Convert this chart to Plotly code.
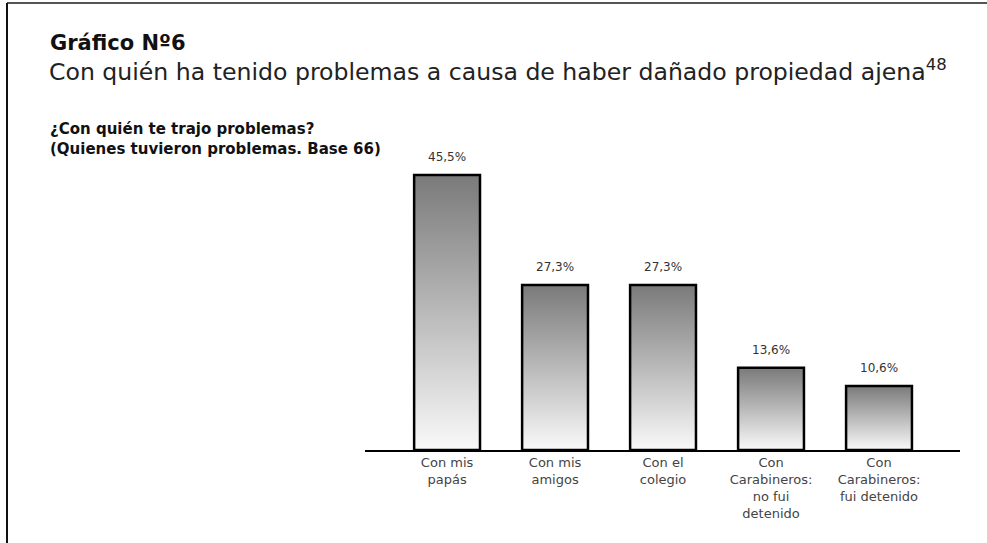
import plotly.graph_objects as go

categories = [
    "Con mis<br>papás",
    "Con mis<br>amigos",
    "Con el<br>colegio",
    "Con<br>Carabineros:<br>no fui<br>detenido",
    "Con<br>Carabineros:<br>fui detenido",
]
values = [45.5, 27.3, 27.3, 13.6, 10.6]
value_labels = ["45,5%", "27,3%", "27,3%", "13,6%", "10,6%"]

W, H = 987, 543
ML, MR, MT, MB = 365, 27, 160, 93
FONT = "DejaVu Sans"


def px_x(px):
    return (px - ML) / (W - ML - MR)


def px_y(py):
    return 1 - (py - MT) / (H - MT - MB)


bar_half = 0.305
fig = go.Figure()

# bars as filled rectangles so each one can carry its own vertical gradient
for i, v in enumerate(values):
    fig.add_trace(
        go.Scatter(
            x=[i - bar_half, i + bar_half, i + bar_half, i - bar_half, i - bar_half],
            y=[0, 0, v, v, 0],
            mode="lines",
            fill="toself",
            fillgradient=dict(
                type="vertical",
                colorscale=[[0, "#f9f9f9"], [1, "#7a7a7a"]],
                start=0,
                stop=v,
            ),
            line=dict(color="#000000", width=2.5),
            hoverinfo="skip",
            showlegend=False,
        )
    )

for i, (v, t) in enumerate(zip(values, value_labels)):
    fig.add_annotation(
        x=i, y=v, text=t, showarrow=False, yanchor="bottom", yshift=9,
        font=dict(family=FONT, size=12, color="#333333"),
    )

fig.add_annotation(
    xref="paper", yref="paper", x=px_x(48), y=px_y(29), xanchor="left", yanchor="top",
    text="<b>Gráfico Nº6</b>", showarrow=False,
    font=dict(family=FONT, size=21, color="#111111"),
)
fig.add_annotation(
    xref="paper", yref="paper", x=px_x(47), y=px_y(53), xanchor="left", yanchor="top",
    text="Con quién ha tenido problemas a causa de haber dañado propiedad ajena<sup>48</sup>",
    showarrow=False,
    font=dict(family=FONT, size=23.6, color="#222222"),
)
fig.add_annotation(
    xref="paper", yref="paper", x=px_x(48), y=px_y(118), xanchor="left", yanchor="top",
    align="left",
    text="<b>¿Con quién te trajo problemas?<br>(Quienes tuvieron problemas. Base 66)</b>",
    showarrow=False,
    font=dict(family=FONT, size=15, color="#111111"),
)

# frame: top and left edges only
fig.add_shape(type="line", xref="paper", yref="paper",
              x0=px_x(7), x1=px_x(987), y0=px_y(3), y1=px_y(3),
              line=dict(color="#555555", width=2))
fig.add_shape(type="line", xref="paper", yref="paper",
              x0=px_x(7), x1=px_x(7), y0=px_y(3), y1=px_y(543),
              line=dict(color="#111111", width=2))

fig.update_layout(
    width=W,
    height=H,
    margin=dict(l=ML, r=MR, t=MT, b=MB),
    paper_bgcolor="white",
    plot_bgcolor="white",
    xaxis=dict(
        range=[-0.76, 4.75],
        tickvals=list(range(len(categories))),
        ticktext=categories,
        showline=True,
        linecolor="#000000",
        linewidth=1.5,
        showgrid=False,
        zeroline=False,
        ticks="",
        tickfont=dict(family=FONT, size=13, color="#444444"),
        fixedrange=True,
    ),
    yaxis=dict(
        range=[0, 48],
        visible=False,
        fixedrange=True,
    ),
    showlegend=False,
)

fig.write_html(
    "out.html",
    config={"displayModeBar": False},
    post_script="document.body.style.margin='0px';",
)
